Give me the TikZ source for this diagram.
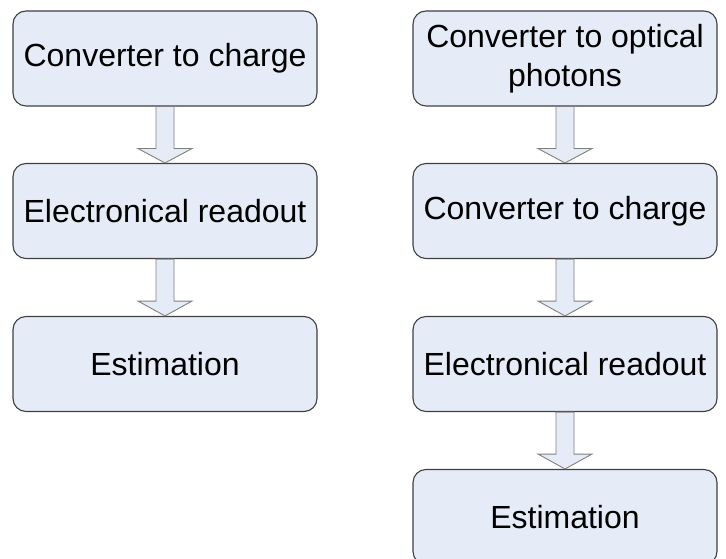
\documentclass[tikz,border=0pt]{standalone}
\usepackage{fontspec}
\setmainfont{Liberation Sans}
\usetikzlibrary{calc}
\definecolor{boxfill}{HTML}{E6ECF7}
\definecolor{boxline}{HTML}{404040}
\definecolor{arrline}{HTML}{7F7F7F}
\tikzset{
  stagebox/.style={draw=boxline, fill=boxfill, line width=1.1pt, rounded corners=13pt,
    minimum width=304pt, minimum height=95pt, inner sep=0pt, align=center,
    font=\fontsize{32}{39.5}\selectfont},
  blockarr/.style={draw=arrline, fill=boxfill, line width=0.9pt, line join=miter}
}
\newcommand{\blockarrow}[2]{%
  \draw[blockarr] ($(#1.south)+(-9,0)$) -- ($(#1.south)+(-9,42)$) -- ($(#1.south)+(-27,42)$)
    -- (#2.north) -- ($(#1.south)+(27,42)$) -- ($(#1.south)+(9,42)$) -- ($(#1.south)+(9,0)$) -- cycle;}
\begin{document}
\begin{tikzpicture}[x=1pt,y=-1pt]
\useasboundingbox (0,0) rectangle (726,559);
\clip (0,0) rectangle (726,559);
\node[stagebox] (l1) at (165,58.5) {Converter to charge};
\node[stagebox] (l2) at (165,211) {Electronical readout};
\node[stagebox] (l3) at (165,364) {Estimation};
\node[stagebox] (r1) at (565,58.5) {Converter to optical\\photons};
\node[stagebox] (r2) at (565,211) {Converter to charge};
\node[stagebox] (r3) at (565,364) {Electronical readout};
\node[stagebox] (r4) at (565,517) {Estimation};
\blockarrow{l1}{l2}
\blockarrow{l2}{l3}
\blockarrow{r1}{r2}
\blockarrow{r2}{r3}
\blockarrow{r3}{r4}
\end{tikzpicture}
\end{document}
